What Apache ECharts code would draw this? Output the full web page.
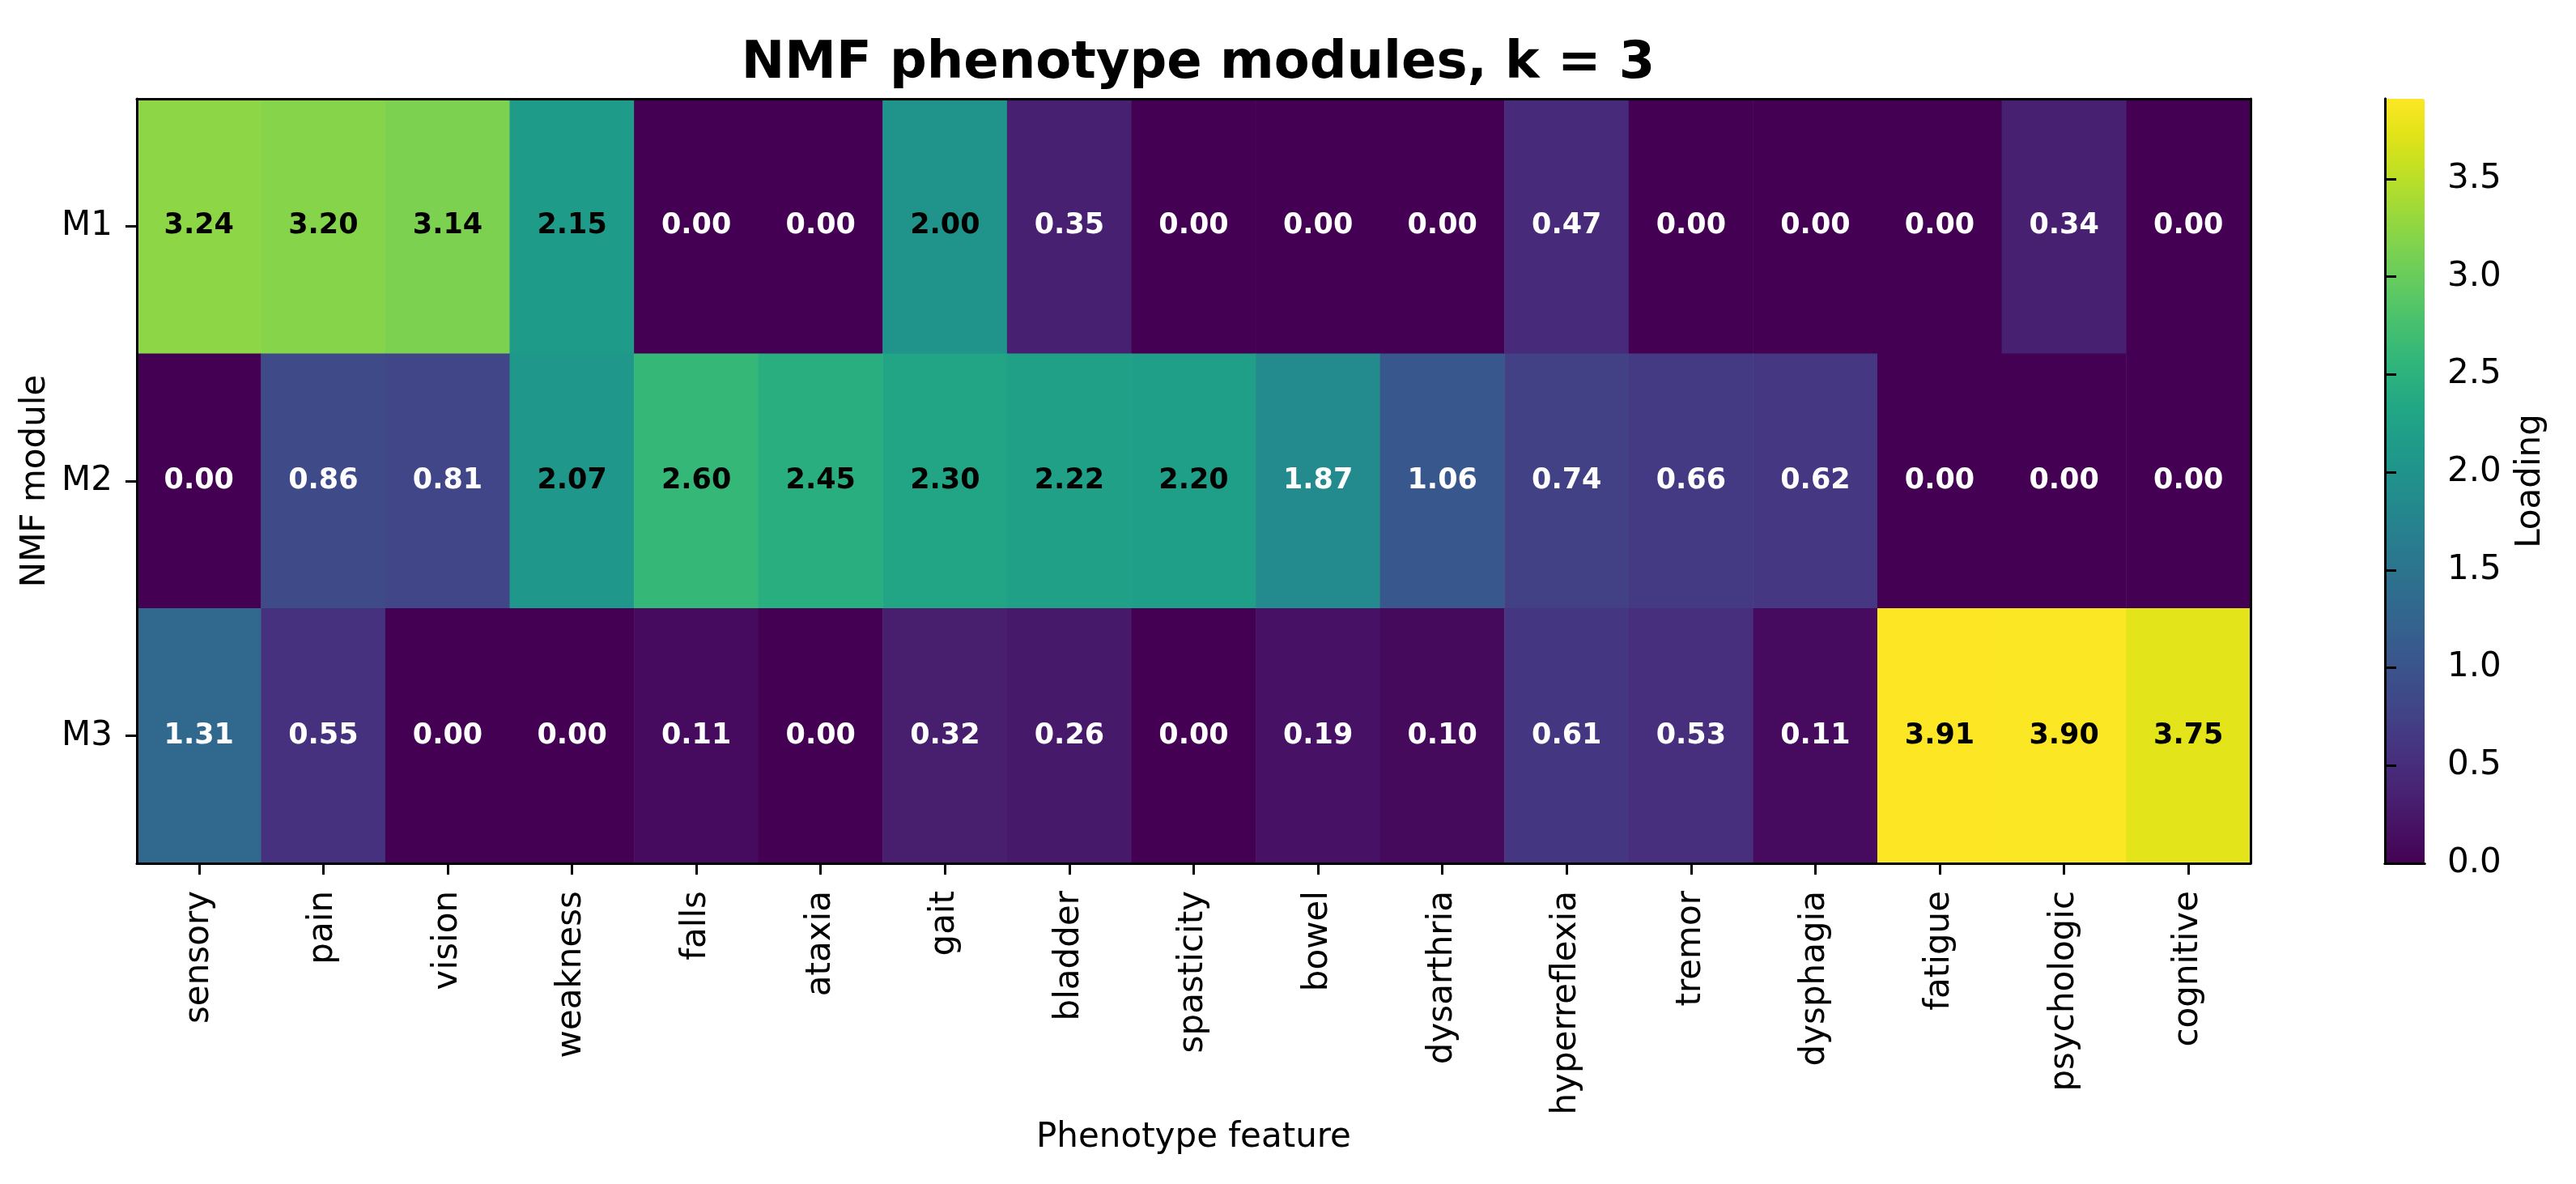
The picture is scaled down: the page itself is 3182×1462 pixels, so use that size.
<!DOCTYPE html>
<html>
<head>
<meta charset="utf-8">
<script src="https://cdn.jsdelivr.net/npm/echarts@6/dist/echarts.min.js"></script>
<style>
html, body { margin: 0; padding: 0; background: #fff; }
#main { width: 3182px; height: 1462px; }
</style>
</head>
<body>
<div id="main"></div>
<script>
// data
var features = ['sensory', 'pain', 'vision', 'weakness', 'falls', 'ataxia', 'gait', 'bladder',
  'spasticity', 'bowel', 'dysarthria', 'hyperreflexia', 'tremor', 'dysphagia', 'fatigue',
  'psychologic', 'cognitive'];
var modules = ['M1', 'M2', 'M3'];
var loadM1 = [3.24, 3.20, 3.14, 2.15, 0.00, 0.00, 2.00, 0.35, 0.00, 0.00, 0.00, 0.47, 0.00, 0.00, 0.00, 0.34, 0.00];
var loadM2 = [0.00, 0.86, 0.81, 2.07, 2.60, 2.45, 2.30, 2.22, 2.20, 1.87, 1.06, 0.74, 0.66, 0.62, 0.00, 0.00, 0.00];
var loadM3 = [1.31, 0.55, 0.00, 0.00, 0.11, 0.00, 0.32, 0.26, 0.00, 0.19, 0.10, 0.61, 0.53, 0.11, 3.91, 3.90, 3.75];
var cbTicks = [0, 0.5, 1.0, 1.5, 2.0, 2.5, 3.0, 3.5];
var vmax = 3.91;

var viridis = ['#440154', '#471365', '#482475', '#463480', '#414487', '#3b528b', '#355f8d',
  '#2f6c8e', '#2a788e', '#25848e', '#21918c', '#1e9c89', '#22a884', '#2fb47c', '#44bf70',
  '#5ec962', '#7ad151', '#9bd93c', '#bddf26', '#dfe318', '#fde725'];

var rows = [loadM1, loadM2, loadM3];
var data = [];
for (var r = 0; r < rows.length; r++) {
  for (var c = 0; c < features.length; c++) {
    var v = rows[r][c];
    data.push({
      value: [c, r, v],
      label: { color: v > vmax / 2 ? '#000' : '#fff' }
    });
  }
}

var FONT = 'DejaVu Sans';
var spine = { show: true, lineStyle: { color: '#000', width: 3 } };

var myChart = echarts.init(document.getElementById('main'));
var option = {
  backgroundColor: '#fff',
  animation: false,
  textStyle: { fontFamily: FONT },
  title: {
    text: 'NMF phenotype modules, k = 3',
    left: 1475,
    textAlign: 'center',
    top: 42,
    textStyle: { fontFamily: FONT, fontSize: 64, fontWeight: 'bold', color: '#000' }
  },
  grid: [
    { left: 169, top: 122, width: 2611, height: 944 },
    { left: 2946, top: 122, width: 49, height: 944 }
  ],
  xAxis: [
    {
      type: 'category', gridIndex: 0, data: features, position: 'bottom', z: 5,
      axisLine: spine,
      axisTick: { show: true, alignWithLabel: true, length: 14, lineStyle: { color: '#000', width: 3 } },
      axisLabel: { rotate: 90, margin: 34, fontSize: 42, color: '#000', fontFamily: FONT },
      splitLine: { show: false },
      name: 'Phenotype feature', nameLocation: 'middle', nameGap: 296,
      nameTextStyle: { fontSize: 42, color: '#000', fontFamily: FONT }
    },
    {
      type: 'category', gridIndex: 0, data: features, position: 'top', z: 5,
      axisLine: spine, axisTick: { show: false }, axisLabel: { show: false }
    },
    {
      type: 'value', gridIndex: 1, position: 'bottom', z: 5, min: 0, max: 1,
      axisLine: spine, axisTick: { show: false }, axisLabel: { show: false }, splitLine: { show: false }
    },
    {
      type: 'value', gridIndex: 1, position: 'top', z: 5, min: 0, max: 1,
      axisLine: spine, axisTick: { show: false }, axisLabel: { show: false }, splitLine: { show: false }
    }
  ],
  yAxis: [
    {
      type: 'category', gridIndex: 0, data: modules, inverse: true, position: 'left', z: 5,
      axisLine: spine,
      axisTick: { show: true, alignWithLabel: true, length: 14, lineStyle: { color: '#000', width: 3 } },
      axisLabel: { margin: 30, fontSize: 42, color: '#000', fontFamily: FONT },
      splitLine: { show: false },
      name: 'NMF module', nameLocation: 'middle', nameGap: 94, nameRotate: 90,
      nameTextStyle: { fontSize: 42, color: '#000', fontFamily: FONT }
    },
    {
      type: 'category', gridIndex: 0, data: modules, inverse: true, position: 'right', z: 5,
      axisLine: spine, axisTick: { show: false }, axisLabel: { show: false }
    },
    {
      type: 'value', gridIndex: 1, position: 'right', z: 5, min: 0, max: vmax,
      axisLine: spine,
      axisTick: { show: true, length: 14, customValues: cbTicks, lineStyle: { color: '#000', width: 3 } },
      axisLabel: {
        margin: 28, fontSize: 42, color: '#000', fontFamily: FONT, customValues: cbTicks,
        formatter: function (v) { return v.toFixed(1); }
      },
      splitLine: { show: false },
      name: 'Loading', nameLocation: 'middle', nameGap: 110, nameRotate: 90,
      nameTextStyle: { fontSize: 42, color: '#000', fontFamily: FONT }
    },
    {
      type: 'value', gridIndex: 1, position: 'left', z: 5, min: 0, max: vmax,
      axisLine: spine, axisTick: { show: false }, axisLabel: { show: false }, splitLine: { show: false }
    }
  ],
  visualMap: {
    type: 'continuous',
    min: 0,
    max: vmax,
    calculable: false,
    hoverLink: false,
    seriesIndex: 0,
    left: 2946,
    top: 122,
    padding: 0,
    itemWidth: 49,
    itemHeight: 944,
    text: null,
    showLabel: false,
    z: 1,
    inRange: { color: viridis }
  },
  series: [{
    type: 'heatmap',
    xAxisIndex: 0,
    yAxisIndex: 0,
    data: data,
    label: {
      show: true,
      fontSize: 35,
      fontWeight: 'bold',
      fontFamily: FONT,
      formatter: function (p) { return p.value[2].toFixed(2); }
    },
    itemStyle: { borderWidth: 0 },
    emphasis: { disabled: true }
  }]
};
myChart.setOption(option);
window.onresize = myChart.resize;
</script>
</body>
</html>
